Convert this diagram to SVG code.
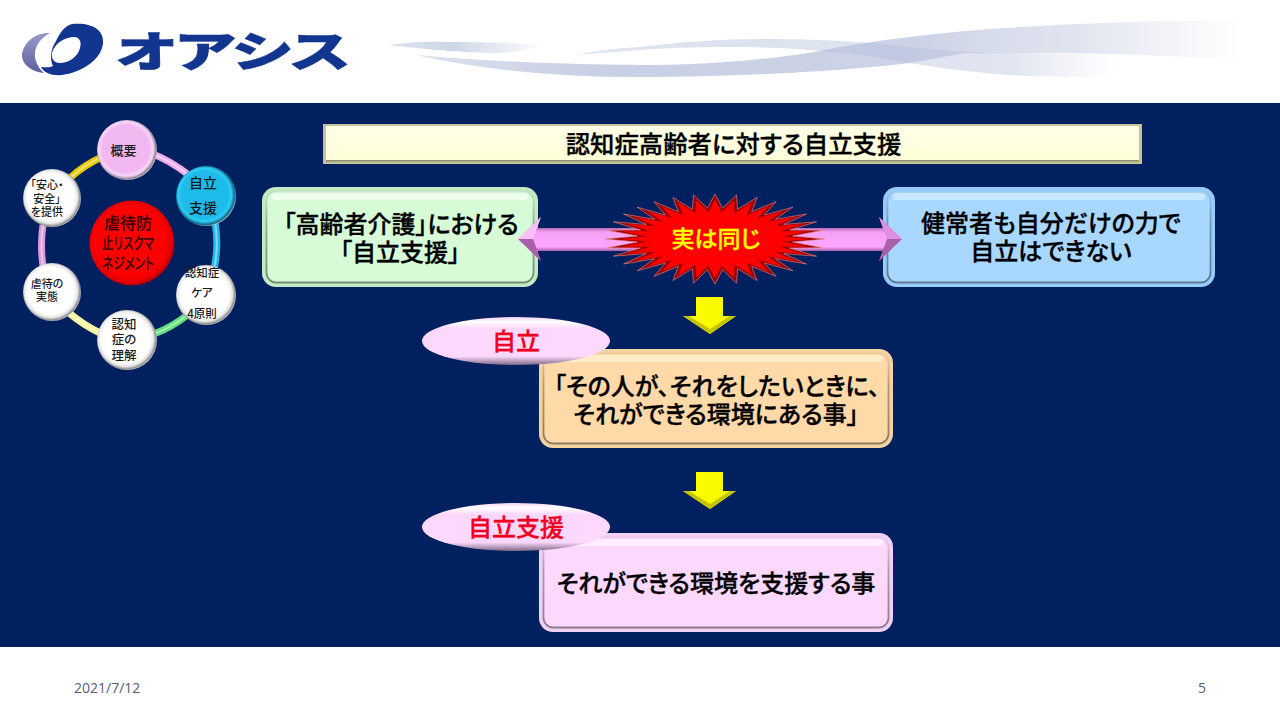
<svg xmlns="http://www.w3.org/2000/svg" width="1280" height="720" viewBox="0 0 1280 720">
<style>
text{font-family:"Noto Sans CJK JP","Noto Sans",sans-serif;text-anchor:middle;font-feature-settings:"palt"}
.b{font-size:24px;font-weight:500;fill:#000;stroke:#000;stroke-width:.35}
.r{font-size:24px;font-weight:500;fill:#f0001e;stroke:#f0001e;stroke-width:.35}
.s{font-weight:500;fill:#1a1a1a}
.c{font-weight:500;fill:#3a0000;stroke:#3a0000;stroke-width:.2}
.f{font-family:"Open Sans",sans-serif;font-size:14px;fill:#555e70;text-anchor:start}
.ring{fill:none;stroke-width:7;stroke-linecap:butt}
.hl{fill:none;stroke-width:2;stroke:#fff;stroke-opacity:.45}
.edge{fill:none;stroke:url(#gEdge);stroke-width:1.8}
.rimc{fill:none;stroke:#9a9a9a;stroke-width:1.2;stroke-opacity:.8}
</style>
<defs>
<radialGradient id="gW" cx=".48" cy=".48" r=".53"><stop offset=".76" stop-color="#fff"/><stop offset=".87" stop-color="#e6e6e6"/><stop offset=".95" stop-color="#8e8e8e"/><stop offset="1" stop-color="#dcdcdc"/></radialGradient>
<radialGradient id="gP" cx=".48" cy=".48" r=".53"><stop offset=".74" stop-color="#f2b8f2"/><stop offset=".86" stop-color="#f7d8f7"/><stop offset=".95" stop-color="#8f7f90"/><stop offset="1" stop-color="#ddd"/></radialGradient>
<radialGradient id="gC" cx=".48" cy=".48" r=".53"><stop offset=".74" stop-color="#1cbbea"/><stop offset=".84" stop-color="#30cdf5"/><stop offset=".94" stop-color="#0c6a88"/><stop offset="1" stop-color="#cfcfcf"/></radialGradient>
<radialGradient id="gR" cx=".48" cy=".48" r=".54"><stop offset=".76" stop-color="#ff0000"/><stop offset=".9" stop-color="#e00000"/><stop offset="1" stop-color="#8a0000"/></radialGradient>
<linearGradient id="gT" x1="0" y1="0" x2="0" y2="1"><stop offset="0" stop-color="#ffffe8"/><stop offset="1" stop-color="#ffffd8"/></linearGradient>
<linearGradient id="gA" x1="0" y1="0" x2="0" y2="1"><stop offset=".25" stop-color="#b868b8"/><stop offset=".34" stop-color="#f3a0f3"/><stop offset=".68" stop-color="#ffa6ff"/><stop offset=".77" stop-color="#a860a8"/></linearGradient>
<linearGradient id="gY" x1="0" y1="0" x2="1" y2="0"><stop offset="0" stop-color="#e8e800"/><stop offset=".2" stop-color="#ffff00"/><stop offset="1" stop-color="#f4f400"/></linearGradient>
<linearGradient id="gE" x1="0" y1="0" x2="0" y2="1"><stop offset="0" stop-color="#f0d0f0"/><stop offset=".1" stop-color="#fff"/><stop offset=".24" stop-color="#fcd8fc"/><stop offset=".82" stop-color="#fcd8fc"/><stop offset="1" stop-color="#7e6a86"/></linearGradient>
<linearGradient id="gEdge" x1="0" y1="0" x2="0" y2="1"><stop offset="0" stop-color="#000" stop-opacity=".04"/><stop offset=".35" stop-color="#000" stop-opacity=".28"/><stop offset="1" stop-color="#000" stop-opacity=".42"/></linearGradient>
<linearGradient id="w1" gradientUnits="userSpaceOnUse" x1="416" y1="0" x2="1244" y2="0"><stop offset="0" stop-color="#b9c3dc" stop-opacity=".5"/><stop offset=".2" stop-color="#b4bedb" stop-opacity=".72"/><stop offset=".6" stop-color="#b4bedb" stop-opacity=".68"/><stop offset=".8" stop-color="#c4cae0" stop-opacity=".5"/><stop offset="1" stop-color="#d0d4e6" stop-opacity="0"/></linearGradient>
<linearGradient id="w2" gradientUnits="userSpaceOnUse" x1="575" y1="0" x2="1117" y2="0"><stop offset="0" stop-color="#b9c4de" stop-opacity=".4"/><stop offset=".2" stop-color="#b9c4de" stop-opacity=".5"/><stop offset=".8" stop-color="#b9c4de" stop-opacity=".45"/><stop offset="1" stop-color="#c9d0e4" stop-opacity="0"/></linearGradient>
<linearGradient id="w3" gradientUnits="userSpaceOnUse" x1="388" y1="0" x2="547" y2="0"><stop offset="0" stop-color="#c6cfe2" stop-opacity=".6"/><stop offset=".4" stop-color="#c6cfe2" stop-opacity=".85"/><stop offset="1" stop-color="#c6cfe2" stop-opacity="0"/></linearGradient>
<linearGradient id="gL" x1="0" y1="0" x2="0" y2="1"><stop offset="0" stop-color="#9a98c8"/><stop offset="1" stop-color="#5c62a0"/></linearGradient>
<polygon id="star" points="110,0 77.6,3 107.9,8.8 74.6,9 101.6,17.2 68.8,14.6 91.5,25 60.3,19.7 77.8,31.8 49.5,24 61.1,37.4 36.7,27.3 42.1,41.6 22.6,29.7 21.5,44.1 7.6,30.8 0,45 -7.6,30.8 -21.5,44.1 -22.6,29.7 -42.1,41.6 -36.7,27.3 -61.1,37.4 -49.5,24 -77.8,31.8 -60.3,19.7 -91.5,25 -68.8,14.6 -101.6,17.2 -74.6,9 -107.9,8.8 -77.6,3 -110,0 -77.6,-3 -107.9,-8.8 -74.6,-9 -101.6,-17.2 -68.8,-14.6 -91.5,-25 -60.3,-19.7 -77.8,-31.8 -49.5,-24 -61.1,-37.4 -36.7,-27.3 -42.1,-41.6 -22.6,-29.7 -21.5,-44.1 -7.6,-30.8 0,-45 7.6,-30.8 21.5,-44.1 22.6,-29.7 42.1,-41.6 36.7,-27.3 61.1,-37.4 49.5,-24 77.8,-31.8 60.3,-19.7 91.5,-25 68.8,-14.6 101.6,-17.2 74.6,-9 107.9,-8.8 77.6,-3"/>
</defs>

<rect width="1280" height="720" fill="#fff"/>
<rect x="0" y="103" width="1280" height="544" fill="#002060"/>

<g id="header">
<path d="M388 45C410 42 430 41 449 42C480 42 520 43 547 45C530 49 512 53 498 53C470 53 430 50 388 45Z" fill="url(#w3)"/>
<path d="M575 55C600 50 620 48 640 47C680 42 720 39 762 39C810 39 840 41 873 43C900 46 940 50 967 52C985 53 995 53 1007 53C1050 53 1085 54 1117 55V77C1080 77 1040 77 1007 75C970 72 940 68 909 63C880 57 850 53 820 51C790 48 760 47 722 47C690 47 665 48 640 50C620 52 600 53 575 55Z" fill="url(#w2)"/>
<path d="M416 55C470 60 560 65 640 65C700 65 770 60 820 51C860 42 950 30 1040 26C1110 22 1180 20 1244 20V60C1180 56 1100 53 1040 53C1000 53 985 54 967 53C950 55 930 60 909 63C840 72 720 77 640 77C570 77 490 72 416 55Z" fill="url(#w1)"/>
<path d="M50 33C36 32 24 42 22 54C21 64 32 72 44 73C36 66 33 56 36 48C38 42 43 37 50 33Z" fill="url(#gL)"/>
<path fill-rule="evenodd" fill="#12358f" d="M72 24C92 22 104 30 103 43C102 58 84 72 62 75C52 76 44 73 41 67C44 67 50 68 53 66C50 60 50 50 56 41C60 33 64 26 72 24ZM74 37C66 37 57 42 53 50C50 57 53 63 60 63C68 63 78 57 80 48C82 41 79 37 74 37Z"/>
<text id="logo" x="233" y="67" font-size="42" font-weight="900" fill="#12358f" stroke="#12358f" stroke-width=".6" textLength="234" lengthAdjust="spacingAndGlyphs">オアシス</text>
</g>

<g id="connectors">
<path class="ring" stroke="#ecaaec" d="M150 153Q170 160 190 176"/>
<path class="ring" stroke="#1cb8ea" d="M215 222Q219 245 214 270"/>
<path class="ring" stroke="#62e07a" d="M186 316Q172 327 154 334"/>
<path class="ring" stroke="#f7f59a" d="M68 312Q83 325 102 334"/>
<path class="ring" stroke="#d89ad8" d="M43 225Q40 245 43 266"/>
<path class="ring" stroke="#e8c800" d="M70 178Q84 165 102 157"/>
<path class="hl" d="M150 153Q170 160 190 176M215 222Q219 245 214 270M186 316Q172 327 154 334M68 312Q83 325 102 334M43 225Q40 245 43 266M70 178Q84 165 102 157"/>
</g>

<g id="title">
<rect x="323" y="124" width="819" height="40" fill="#c4c49a"/>
<rect x="326" y="126" width="813" height="35" fill="url(#gT)"/>
<rect x="326" y="160" width="813" height="1.5" fill="#8e8e70"/>
<text class="b" x="733.5" y="153" style="font-size:24.4px">認知症高齢者に対する自立支援</text>
</g>

<g id="box-left">
<rect x="262" y="187" width="276" height="100" rx="14" fill="#c4eac4"/>
<rect x="266.5" y="191.5" width="267" height="91" rx="10" fill="#d6fbd6"/>
<rect x="272" y="193" width="256" height="7" rx="3" fill="#eeffee"/>
<rect class="edge" x="266.5" y="191.5" width="267" height="91" rx="10"/>
<text class="b"><tspan x="401" y="233">「高齢者介護」における</tspan><tspan x="400" y="261">「自立支援」</tspan></text>
</g>
<g id="box-right">
<rect x="883" y="187" width="332" height="100" rx="14" fill="#98ccf8"/>
<rect x="887.5" y="191.5" width="323" height="91" rx="10" fill="#a8d8ff"/>
<rect x="893" y="193" width="312" height="7" rx="3" fill="#c8e8ff"/>
<rect class="edge" x="887.5" y="191.5" width="323" height="91" rx="10"/>
<text class="b"><tspan x="1051" y="232">健常者も自分だけの力で</tspan><tspan x="1051" y="260">自立はできない</tspan></text>
</g>

<g id="double-arrow">
<polygon points="518,239 541,217 537,228 883,228 879,217 902,239 879,261 883,251 537,251 541,261" fill="url(#gA)"/>
<polygon points="518,239 541,217 533,239" fill="#f7c0f7"/>
<polygon points="518,239 541,261 533,239" fill="#a860a8"/>
<polygon points="902,239 879,217 887,239" fill="#e090e0"/>
<polygon points="902,239 879,261 887,239" fill="#a860a8"/>
</g>

<g id="burst">
<use href="#star" transform="translate(715,239)" fill="#9a0000" stroke="#e89090" stroke-width=".6"/>
<use href="#star" transform="translate(715,239) scale(.87)" fill="#ff0000"/>
<text x="716" y="247" font-size="23" font-weight="500" fill="#ffff00" stroke="#ffff00" stroke-width=".3">実は同じ</text>
</g>

<g id="arrow-1">
<polygon points="696,297 723,297 723,316 736,316 710,334 683,316 696,316" fill="url(#gY)"/>
<polygon points="683,316 710,334 736,316 730,316 710,329 689,316" fill="#c4c400"/>
</g>

<g id="box-jiritsu">
<rect x="539" y="349" width="354" height="99" rx="14" fill="#f3d3a0"/>
<rect x="543.5" y="353.5" width="345" height="90" rx="10" fill="#ffd9a8"/>
<rect x="549" y="355" width="334" height="7" rx="3" fill="#ffecc8"/>
<rect class="edge" x="543.5" y="353.5" width="345" height="90" rx="10"/>
<text class="b"><tspan x="717" y="395">「その人が、それをしたいときに、</tspan><tspan x="716" y="423">それができる環境にある事」</tspan></text>
</g>
<g id="label-jiritsu">
<ellipse cx="516" cy="341" rx="94" ry="24" fill="url(#gE)"/>
<text class="r" x="516" y="350">自立</text>
</g>

<g id="arrow-2">
<polygon points="696,472 723,472 723,491 736,491 710,509 683,491 696,491" fill="url(#gY)"/>
<polygon points="683,491 710,509 736,491 730,491 710,504 689,491" fill="#c4c400"/>
</g>

<g id="box-shien">
<rect x="539" y="533" width="354" height="99" rx="14" fill="#f0d0f4"/>
<rect x="543.5" y="537.5" width="345" height="90" rx="10" fill="#fcd8fc"/>
<rect x="549" y="539" width="334" height="7" rx="3" fill="#feeefe"/>
<rect class="edge" x="543.5" y="537.5" width="345" height="90" rx="10"/>
<text class="b" x="716" y="592">それができる環境を支援する事</text>
</g>
<g id="label-shien">
<ellipse cx="516" cy="527" rx="94" ry="24" fill="url(#gE)"/>
<text class="r" x="516" y="536">自立支援</text>
</g>

<g id="node-center">
<circle cx="132" cy="243" r="42.5" fill="url(#gR)"/>
<text class="c" font-size="16"><tspan x="128" y="229">虐待防</tspan><tspan x="128" y="249" textLength="52" lengthAdjust="spacingAndGlyphs">止リスクマ</tspan><tspan x="128" y="269" textLength="52" lengthAdjust="spacingAndGlyphs">ネジメント</tspan></text>
</g>
<g id="node-gaiyo">
<circle cx="127" cy="150" r="30" fill="url(#gP)"/>
<text class="s" x="123.5" y="154.5" font-size="13">概要</text>
</g>
<g id="node-shien">
<circle cx="206" cy="196" r="30" fill="url(#gC)"/>
<text class="s" font-size="14"><tspan x="203" y="188">自立</tspan><tspan x="203" y="213">支援</tspan></text>
</g>
<g id="node-care">
<circle cx="206" cy="295" r="30" fill="url(#gW)"/>
<text class="s" font-size="11.5"><tspan x="202" y="277">認知症</tspan><tspan x="202" y="297">ケア</tspan><tspan x="202" y="318">4原則</tspan></text>
</g>
<g id="node-rikai">
<circle cx="127" cy="340" r="30" fill="url(#gW)"/>
<text class="s" font-size="12.5"><tspan x="124" y="329">認知</tspan><tspan x="124" y="344">症の</tspan><tspan x="124" y="360">理解</tspan></text>
</g>
<g id="node-jittai">
<circle cx="52" cy="292" r="29" fill="url(#gW)"/>
<text class="s" font-size="11"><tspan x="47" y="288">虐待の</tspan><tspan x="47" y="301">実態</tspan></text>
</g>
<g id="node-anshin">
<circle cx="52" cy="198" r="29" fill="url(#gW)"/>
<text class="s" font-size="11"><tspan x="47" y="189">「安心・</tspan><tspan x="47" y="203">安全」</tspan><tspan x="47" y="216">を提供</tspan></text>
</g>

<g id="footer">
<text class="f" x="74" y="693">2021/7/12</text>
<text class="f" x="1198" y="693">5</text>
</g>
</svg>
